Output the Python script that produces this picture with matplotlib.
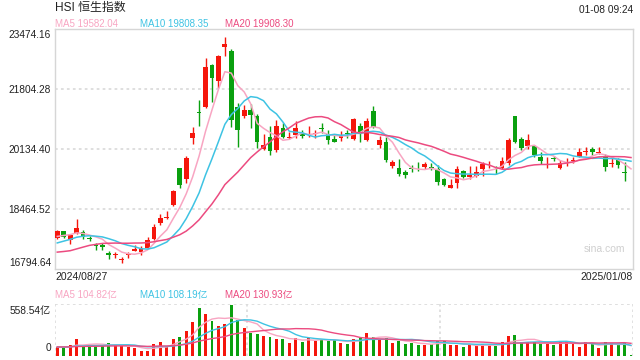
import numpy as np
import pandas as pd
import matplotlib
matplotlib.use('Agg')
import matplotlib.pyplot as plt

plt.rcParams['font.family'] = ['Liberation Sans', 'Noto Sans CJK SC', 'DejaVu Sans']

# daily OHLC of the HSI, 2024/08/27 .. 2025/01/08
opens = [17660, 17846, 17613, 17808, 17836, 17660, 17474, 17455, 17250, 17185,
         17055, 17185, 17306, 17269, 17381, 17622, 18069, 18218, 18571, 19594,
         19296, 20440, 21166, 21305, 22468, 22031, 22961, 22868, 21296, 21054,
         21222, 21054, 20133, 20459, 20096, 20710, 20450, 20524, 20552, 20533,
         20552, 20719, 20543, 20403, 20450, 20570, 20403, 20784, 20385, 21184,
         20245, 20319, 19659, 19613, 19482, 19603, 19696, 19631, 19622, 19575,
         19296, 19055, 19194, 19529, 19352, 19389, 19575, 19706, 19557, 19594,
         19734, 21063, 20403, 20226, 20217, 19920, 19678, 19883, 19613, 19678,
         19799, 19920, 20050, 20124, 20031, 19938, 19724, 19827, 19482, 19380]
highs = [17873, 17864, 17780, 18199, 17873, 17715, 17520, 17520, 17288, 17269,
         17120, 17269, 17474, 17427, 17697, 18060, 18329, 18404, 18990, 19613,
         19947, 20738, 21500, 22663, 22496, 22756, 23249, 22905, 21408, 21361,
         21380, 21101, 20543, 20784, 20942, 20850, 20598, 20924, 20664, 20775,
         20664, 20868, 20664, 20524, 20645, 20664, 21008, 20850, 20989, 21342,
         20505, 20478, 19827, 19845, 19548, 19687, 19761, 19780, 19752, 19687,
         19334, 19287, 19659, 19557, 19659, 19668, 19780, 19808, 19650, 19920,
         20431, 21063, 20478, 20543, 20245, 20040, 19910, 19938, 19827, 19873,
         19920, 20152, 20180, 20189, 20189, 19985, 19873, 19873, 19780, 19380]
lows = [17622, 17660, 17501, 17771, 17641, 17585, 17334, 17316, 17064, 17102,
        16962, 17102, 17288, 17176, 17343, 17594, 18032, 18199, 18552, 19055,
        19176, 20264, 20784, 21268, 21435, 21826, 22728, 20738, 20198, 20989,
        20710, 20171, 20115, 19966, 20040, 20431, 20412, 20431, 20431, 20468,
        20431, 20570, 20264, 20319, 20366, 20431, 20385, 20338, 20357, 20710,
        20152, 19761, 19594, 19389, 19315, 19482, 19520, 19575, 19548, 19129,
        19092, 19036, 19055, 19315, 19296, 19361, 19389, 19613, 19427, 19566,
        19687, 20292, 20106, 20133, 19920, 19715, 19613, 19799, 19575, 19659,
        19752, 19901, 19966, 19966, 19985, 19529, 19641, 19613, 19250, 19371]
closes = [17846, 17697, 17734, 17948, 17697, 17622, 17436, 17418, 17195, 17204,
          17074, 17204, 17353, 17381, 17613, 17976, 18227, 18236, 18962, 19129,
          19873, 20589, 21138, 22403, 22105, 22719, 23063, 20942, 20663, 21222,
          21082, 20338, 20245, 20078, 20766, 20459, 20468, 20710, 20487, 20552,
          20570, 20701, 20385, 20338, 20505, 20552, 20961, 20617, 20905, 20738,
          20375, 19826, 19761, 19436, 19408, 19585, 19678, 19706, 19603, 19222,
          19129, 19129, 19566, 19343, 19408, 19501, 19715, 19724, 19538, 19808,
          20375, 20329, 20152, 20375, 19966, 19799, 19696, 19864, 19734, 19696,
          19817, 20059, 20068, 20040, 20050, 19641, 19743, 19687, 19464, 19371]
# turnover, 亿
volumes = [89, 89, 115, 181, 104, 126, 111, 104, 137, 111,
           104, 96, 81, 48, 48, 126, 148, 104, 181, 204,
           270, 374, 525, 463, 385, 326, 352, 558.54, 392, 303,
           252, 241, 218, 207, 185, 185, 141, 192, 152, 196,
           163, 178, 163, 170, 141, 126, 181, 196, 252, 207,
           178, 196, 141, 163, 126, 141, 115, 115, 126, 163,
           163, 115, 115, 93, 126, 107, 126, 115, 104, 152,
           215, 226, 148, 152, 152, 126, 126, 115, 152, 163,
           126, 93, 148, 126, 81, 152, 133, 115, 141, 7]

# sessions before the window, estimated from where the MA lines start
prior_closes = [17344, 17304, 16945, 16698, 16647, 16877, 16891, 17090, 17112, 17174,
                17200, 17250, 17350, 17400, 17500, 17560, 17620, 17700, 17780]
prior_volumes = [92, 98, 105, 88, 95, 101, 90, 97, 93, 99,
                 94, 89, 96, 100, 92, 97, 95, 90, 98]

dates = ['2024/08/27', '2025/01/08']
price_ticks = [23474.16, 21804.28, 20134.40, 18464.52, 16794.64]
vol_max = 558.54
ma_labels = ['MA5 19582.04', 'MA10 19808.35', 'MA20 19908.30']
vol_ma_labels = ['MA5 104.82亿', 'MA10 108.19亿', 'MA20 130.93亿']
timestamp = '01-08 09:24'

RED = '#f5160c'
GREEN = '#0aa00f'
MA_COLORS = ['#f8a5c2', '#3ec3e3', '#ec4b80']
GRID = '#dcdcdc'

n = len(closes)
x = np.arange(n)
o = np.array(opens, float)
c = np.array(closes, float)
h = np.array(highs, float)
l = np.array(lows, float)
v = np.array(volumes, float)
cols = [RED if cc >= oo else GREEN for oo, cc in zip(o, c)]

all_close = pd.Series(prior_closes + closes)
all_vol = pd.Series(prior_volumes + volumes)

W, H = 640, 360
fig = plt.figure(figsize=(W / 100, H / 100), dpi=100)
fig.patch.set_facecolor('white')


def fx(px):
    return px / W


def fy(py):
    return 1 - py / H


left, right = 54.5, 633
ax = fig.add_axes([fx(left), fy(269), fx(right - left), 240 / H])
axv = fig.add_axes([fx(left), fy(355.5), fx(right - left), 51.5 / H])

xlim = (-0.43, n - 1 + 0.31)

# ---- price panel
for yv in price_ticks[1:-1]:
    ax.axhline(yv, color=GRID, lw=1.3, ls=(0, (1.5, 1.8)), zorder=0)
ax.vlines(x, l, h, colors=cols, lw=1.0, zorder=2)
body = np.maximum(np.abs(c - o), 22)
ax.bar(x, body, bottom=np.minimum(o, c), width=0.74, color=cols, lw=0, zorder=3)
for w, col in zip([5, 10, 20], MA_COLORS):
    ma = all_close.rolling(w).mean().values[-n:]
    ax.plot(x, ma, color=col, lw=1.1, zorder=4)
ax.set_xlim(*xlim)
ax.set_ylim(price_ticks[-1], price_ticks[0])
ax.set_xticks([])
ax.set_yticks([])
for s in ax.spines.values():
    s.set_color('#d6d6d6')
    s.set_linewidth(1.0)
ax.text(0.986, 0.085, 'sina.com', transform=ax.transAxes, ha='right', va='center',
        fontsize=7.5, color='#cfcfcf')

# ---- volume panel
axv.bar(x, v, width=0.46, color=cols, lw=0, zorder=2)
for w, col in zip([5, 10, 20], MA_COLORS):
    ma = all_vol.rolling(w).mean().values[-n:]
    axv.plot(x, ma, color=col, lw=1.0, zorder=3)
axv.set_xlim(*xlim)
axv.set_ylim(0, vol_max * 1.02)
axv.set_xticks([])
axv.set_yticks([])
for s in axv.spines.values():
    s.set_visible(False)
span = xlim[1] - xlim[0]
for xv in [xlim[0], xlim[0] + span / 3, xlim[0] + 2 * span / 3, xlim[1]]:
    axv.axvline(xv, color=GRID, lw=1.2, ls=(0, (1.5, 1.8)), zorder=0)
axv.axhline(vol_max * 1.02, color=GRID, lw=1.3, ls=(0, (1.5, 1.8)), zorder=0)

# ---- texts
fig.text(fx(55), fy(8), 'HSI 恒生指数', fontsize=8.6, color='#222222', va='center')
fig.text(fx(633), fy(10), timestamp, fontsize=7.3, color='#222222', ha='right', va='center')
for xp, lab, col in zip([55, 140.5, 225], ma_labels, MA_COLORS):
    fig.text(fx(xp), fy(24), lab, fontsize=7, color=col, va='center')
for xp, lab, col in zip([55, 140.5, 225], vol_ma_labels, MA_COLORS):
    fig.text(fx(xp), fy(295), lab, fontsize=7, color=col, va='center')

tick_y = [35, 90, 149.5, 209.5, 263]
for yp, t in zip(tick_y, price_ticks):
    fig.text(fx(51), fy(yp), f'{t:.2f}', fontsize=7.3, color='#222222', ha='right', va='center')
fig.text(fx(51), fy(311), f'{vol_max:.2f}亿', fontsize=7.3, color='#222222', ha='right', va='center')
fig.text(fx(51), fy(348), '0', fontsize=7.3, color='#222222', ha='right', va='center')

fig.text(fx(55), fy(277.5), dates[0], fontsize=7.5, color='#222222', va='center')
fig.text(fx(633), fy(277.5), dates[1], fontsize=7.5, color='#222222', ha='right', va='center')

fig.savefig('out.png', dpi=100, facecolor='white')
